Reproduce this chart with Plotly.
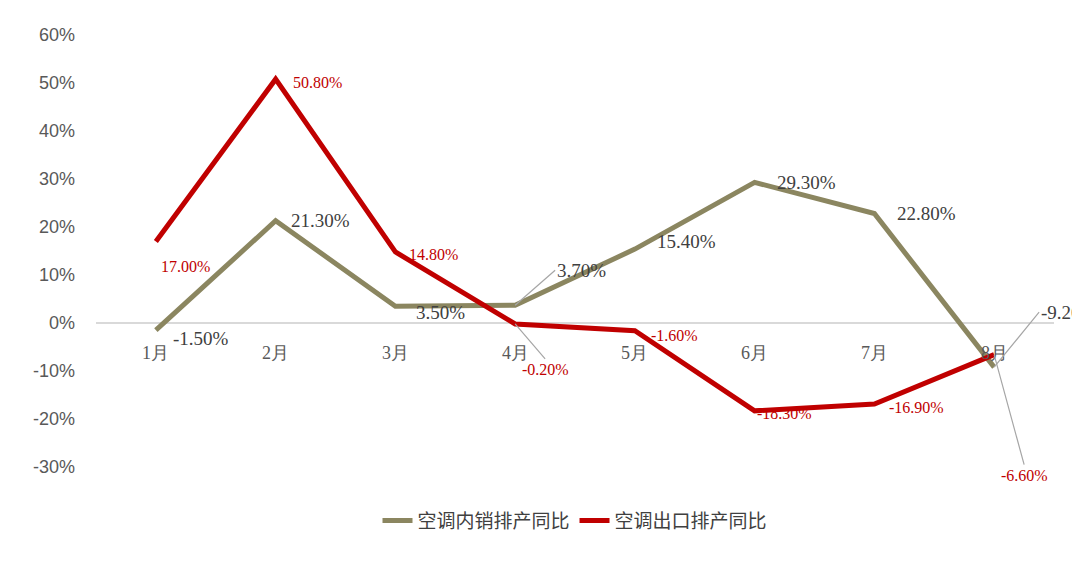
import plotly.graph_objects as go

months = ["1月", "2月", "3月", "4月", "5月", "6月", "7月", "8月"]
domestic = [-1.5, 21.3, 3.5, 3.7, 15.4, 29.3, 22.8, -9.2]
export = [17.0, 50.8, 14.8, -0.2, -1.6, -18.3, -16.9, -6.6]
y_ticks = [60, 50, 40, 30, 20, 10, 0, -10, -20, -30]

OLIVE = "#8B8660"
RED = "#C00000"
serif = "Liberation Serif"

fig = go.Figure()
fig.add_trace(go.Scatter(x=months, y=domestic, mode="lines", name="空调内销排产同比",
                         line=dict(color=OLIVE, width=5)))
fig.add_trace(go.Scatter(x=months, y=export, mode="lines", name="空调出口排产同比",
                         line=dict(color=RED, width=5)))

# category labels sit just below the zero line
for m in months:
    fig.add_annotation(x=m, y=0, text=m, showarrow=False, yshift=-30,
                       font=dict(family=serif, size=18, color="#595959"))

# offsets (x, y pixels) for data labels
dom_off = [(45, -8), (45, 0), (45, -6), None, (52, 8), (52, 0), (52, 0), None]
exp_off = [(30, -25), (42, -3), (38, -3), None, (40, -5), (30, -3), (42, -3), None]

for i, m in enumerate(months):
    txt = f"{domestic[i]:.2f}%"
    if dom_off[i] is None:
        ax, ay = (40, -35) if i == 3 else (45, -55)
        fig.add_annotation(x=m, y=domestic[i], text=txt, showarrow=True, arrowhead=0,
                           arrowcolor="#A6A6A6", arrowwidth=1.2, ax=ax, ay=ay,
                           xanchor="left", font=dict(family=serif, size=19, color="#404040"))
    else:
        fig.add_annotation(x=m, y=domestic[i], text=txt, showarrow=False,
                           xshift=dom_off[i][0], yshift=dom_off[i][1],
                           font=dict(family=serif, size=19, color="#404040"))
    txt = f"{export[i]:.2f}%"
    if exp_off[i] is None:
        ax, ay = (30, 35) if i == 3 else (30, 110)
        fig.add_annotation(x=m, y=export[i], text=txt, showarrow=True, arrowhead=0,
                           arrowcolor="#A6A6A6", arrowwidth=1.2, ax=ax, ay=ay,
                           yanchor="top", font=dict(family=serif, size=16, color=RED))
    else:
        fig.add_annotation(x=m, y=export[i], text=txt, showarrow=False,
                           xshift=exp_off[i][0], yshift=exp_off[i][1],
                           font=dict(family=serif, size=16, color=RED))

fig.update_layout(
    width=1080, height=561,
    margin=dict(l=88, r=34, t=27, b=102),
    paper_bgcolor="white", plot_bgcolor="white",
    showlegend=True,
    legend=dict(orientation="h", x=0.5, xanchor="center", y=-0.08, yanchor="top",
                font=dict(family="Noto Sans CJK SC", size=19, color="#404040")),
    xaxis=dict(showticklabels=False, showgrid=False, zeroline=False, showline=False,
               range=[-0.5, 7.5]),
    yaxis=dict(range=[-30, 60], tickvals=y_ticks, ticktext=[f"{v}%" for v in y_ticks],
               showgrid=False, zeroline=True, zerolinecolor="#D9D9D9", zerolinewidth=1.5,
               tickfont=dict(family="Liberation Sans", size=18, color="#595959"),
               ticklabelstandoff=20),
)

fig.write_html("out.html")
